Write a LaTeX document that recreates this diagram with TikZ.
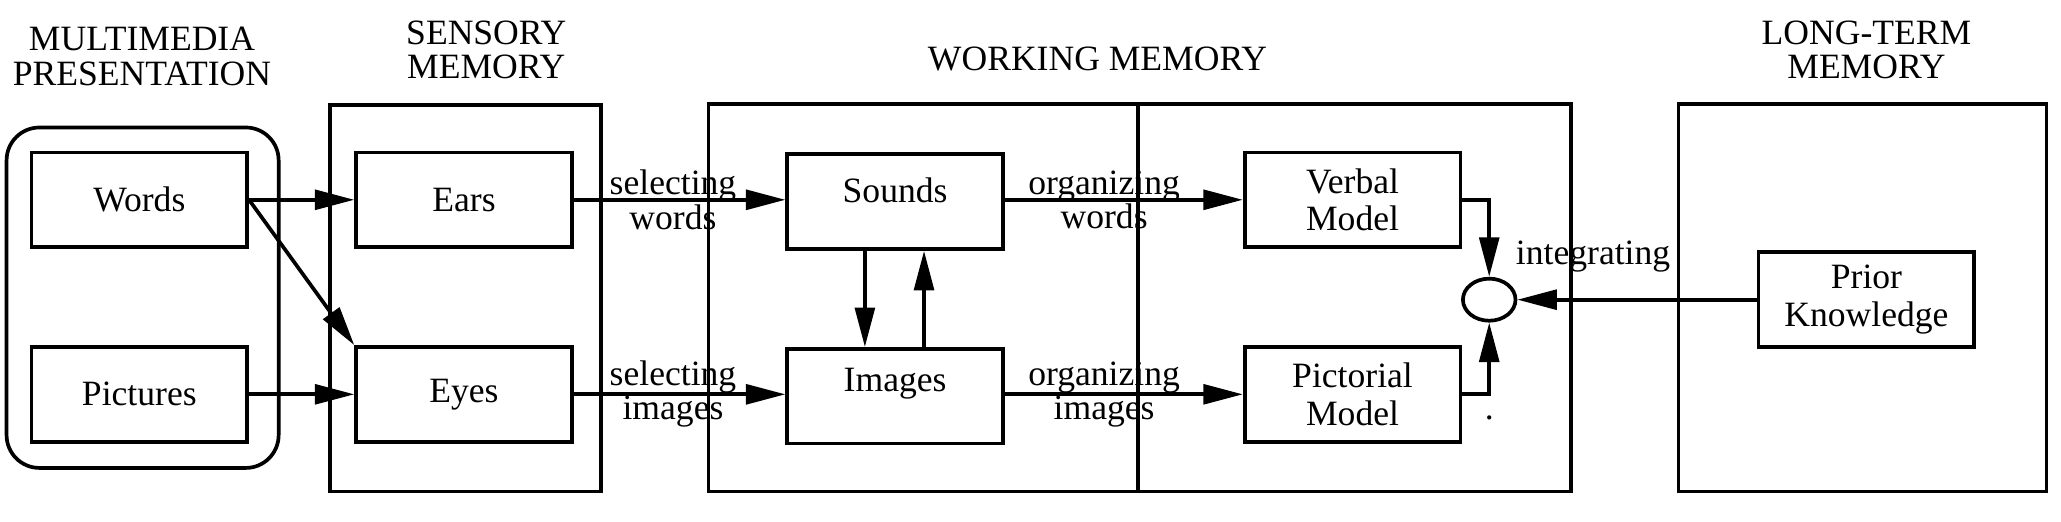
\documentclass[tikz,border=0pt]{standalone}
\usepackage{fontspec}
\setmainfont{Liberation Serif}
\usetikzlibrary{arrows.meta,positioning,shapes.geometric}

\begin{document}
\begin{tikzpicture}[x=0.01cm,y=-0.01cm,
    font=\fontsize{7.7}{8.2}\selectfont,
    every node/.style={inner sep=0pt},
    box/.style={draw,thick,minimum width=1.64cm,minimum height=0.72cm,align=center},
    big/.style={draw,thick},
    title/.style={align=center,font=\fontsize{7.7}{7.4}\selectfont},
    lab/.style={align=center,font=\fontsize{7.7}{7.4}\selectfont},
    arr/.style={thick,-{Triangle[length=0.3cm,width=0.15cm]}}]
\useasboundingbox (0,0) rectangle (1568,397);

% titles
\node[title] (tmm) at (108,43) {MULTIMEDIA\\PRESENTATION};
\node[title] (tsm) at (370,38) {SENSORY\\MEMORY};
\node[title] (twm) at (835,45) {WORKING MEMORY};
\node[title] (tlm) at (1420,38) {LONG-TERM\\MEMORY};

% outer frames
\draw[big,rounded corners=0.25cm] (5,97) rectangle (212,356);
\draw[big] (251,80) rectangle (457,374);
\draw[big] (539,79) rectangle (1195,374);
\draw[big] (866,79) -- (866,374);
\draw[big] (1277,79) rectangle (1557,374);

% boxes
\node[box] (words) at (106,152) {Words};
\node[box] (pictures) at (106,300) {Pictures};
\node[box] (ears) at (353,152) {Ears};
\node[box] (eyes) at (353,300) {Eyes};
\node[box,anchor=north,minimum height=0.72cm] (sounds) at (681,116) {};
\node (soundst) at (681,145) {Sounds};
\node[box,anchor=north] (images) at (681,264) {};
\node (imagest) at (681,292) {Images};
\node[box] (verbal) at (1029,152) {Verbal\\Model};
\node[box] (pictorial) at (1029,300) {Pictorial\\Model};
\node[box] (prior) at (1420,228) {Prior\\Knowledge};
\node[draw,thick,ellipse,minimum width=0.4cm,minimum height=0.32cm] (join) at (1133,228) {};
\node (dot) at (1133,318) {.};

% connectors
\draw[arr] (words.east) -- (ears.west);
\draw[arr] (words.east) -- (eyes.north west);
\draw[arr] (pictures.east) -- (eyes.west);
\draw[arr] (ears.east) -- (sounds.west |- ears.east);
\draw[arr] (eyes.east) -- (images.west |- eyes.east);
\draw[arr] (sounds.south -| 658,0) -- (images.north -| 658,0);
\draw[arr] (images.north -| 703,0) -- (sounds.south -| 703,0);
\draw[arr] (sounds.east |- verbal.west) -- (verbal.west);
\draw[arr] (images.east |- pictorial.west) -- (pictorial.west);
\draw[arr] (verbal.east) -| (join.north);
\draw[arr] (pictorial.east) -| (join.south);
\draw[arr] (prior.west) -- (join.east);

% labels
\node[lab] (lsw) at (512,152) {selecting\\words};
\node[lab] (lsi) at (512,300) {selecting\\images};
\node[lab] (low) at (840,152) {organizing\\words};
\node[lab] (loi) at (840,300) {organizing\\images};
\node[lab] (lint) at (1212,195) {integrating};
\end{tikzpicture}
\end{document}
